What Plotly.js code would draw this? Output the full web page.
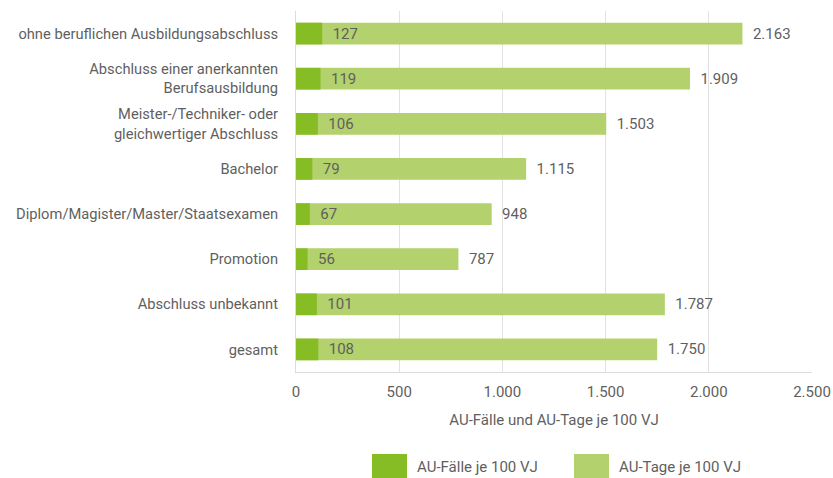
<!DOCTYPE html>
<html>
<head>
<meta charset="utf-8">
<script src="https://cdn.plot.ly/plotly-3.0.1.min.js"></script>
<style>html,body{margin:0;padding:0;background:#fff;}#chart{width:833px;height:478px;}</style>
</head>
<body>
<div id="chart"></div>
<script>
const categories = [
  "ohne beruflichen Ausbildungsabschluss",
  "Abschluss einer anerkannten<br>Berufsausbildung",
  "Meister-/Techniker- oder<br>gleichwertiger Abschluss",
  "Bachelor",
  "Diplom/Magister/Master/Staatsexamen",
  "Promotion",
  "Abschluss unbekannt",
  "gesamt"
];
const auFaelle = [127, 119, 106, 79, 67, 56, 101, 108];
const auTage = [2163, 1909, 1503, 1115, 948, 787, 1787, 1750];
const xTicks = [0, 500, 1000, 1500, 2000, 2500];
const seriesNames = ["AU-Fälle je 100 VJ", "AU-Tage je 100 VJ"];
const axisTitle = "AU-Fälle und AU-Tage je 100 VJ";

const W = 833, H = 478;
const M = {l: 296, r: 21, t: 11, b: 106};
const pw = W - M.l - M.r, ph = H - M.t - M.b;
const px = x => (x - M.l) / pw;
const py = y => (H - M.b - y) / ph;

const cDark = "#86bc24", cLight = "#b3d16c", txt = "#5f5f5f";
const font = {family: "Roboto, 'Open Sans', sans-serif", size: 15, color: txt};

const traces = [
  {
    type: "bar", orientation: "h", name: seriesNames[1],
    y: categories, x: auTage, marker: {color: cLight},
    text: auTage, texttemplate: "\u00a0\u00a0%{x:,d}", textposition: "outside",
    textfont: {family: font.family, size: 15, color: txt},
    constraintext: "none", cliponaxis: false, hoverinfo: "x+name"
  },
  {
    type: "bar", orientation: "h", name: seriesNames[0],
    y: categories, x: auFaelle, marker: {color: cDark},
    text: auFaelle, texttemplate: "\u00a0\u00a0%{x:,d}", textposition: "outside",
    textfont: {family: font.family, size: 15, color: txt},
    constraintext: "none", cliponaxis: false, hoverinfo: "x+name"
  }
];

const legendItems = [
  {x0: 372, x1: 407, tx: 415, color: cDark, label: seriesNames[0]},
  {x0: 574, x1: 609, tx: 617, color: cLight, label: seriesNames[1]}
];
const shapes = legendItems.map(it => ({
  type: "rect", xref: "paper", yref: "paper",
  x0: px(it.x0), x1: px(it.x1), y0: py(478), y1: py(454),
  fillcolor: it.color, line: {width: 0}
}));
const annotations = legendItems.map(it => ({
  xref: "paper", yref: "paper", x: px(it.tx), y: py(467),
  xanchor: "left", yanchor: "middle", showarrow: false,
  text: it.label, font: {family: font.family, size: 15, color: txt}
}));

const layout = {
  width: W, height: H,
  margin: M,
  paper_bgcolor: "#fff", plot_bgcolor: "#fff",
  barmode: "overlay", bargap: 0.52,
  separators: ",.",
  font: font,
  showlegend: false,
  xaxis: {
    range: [0, 2500], tickvals: xTicks, tickformat: ",d",
    showgrid: true, gridcolor: "#e2e2e2", gridwidth: 1,
    showline: true, linecolor: "#dcdcdc", linewidth: 1,
    zeroline: false, ticks: "", ticklabelstandoff: 6,
    tickfont: {family: font.family, size: 15, color: txt},
    title: {text: axisTitle, standoff: 14, font: {family: font.family, size: 15, color: txt}},
    automargin: false, fixedrange: true
  },
  yaxis: {
    autorange: "reversed", type: "category",
    showgrid: false, showline: true, linecolor: "#dcdcdc", linewidth: 1,
    zeroline: false, ticks: "", ticklabelstandoff: 14,
    tickfont: {family: font.family, size: 14.7, color: txt},
    automargin: false, fixedrange: true
  },
  shapes: shapes,
  annotations: annotations
};

Plotly.newPlot("chart", traces, layout, {displayModeBar: false, staticPlot: true});
</script>
</body>
</html>
